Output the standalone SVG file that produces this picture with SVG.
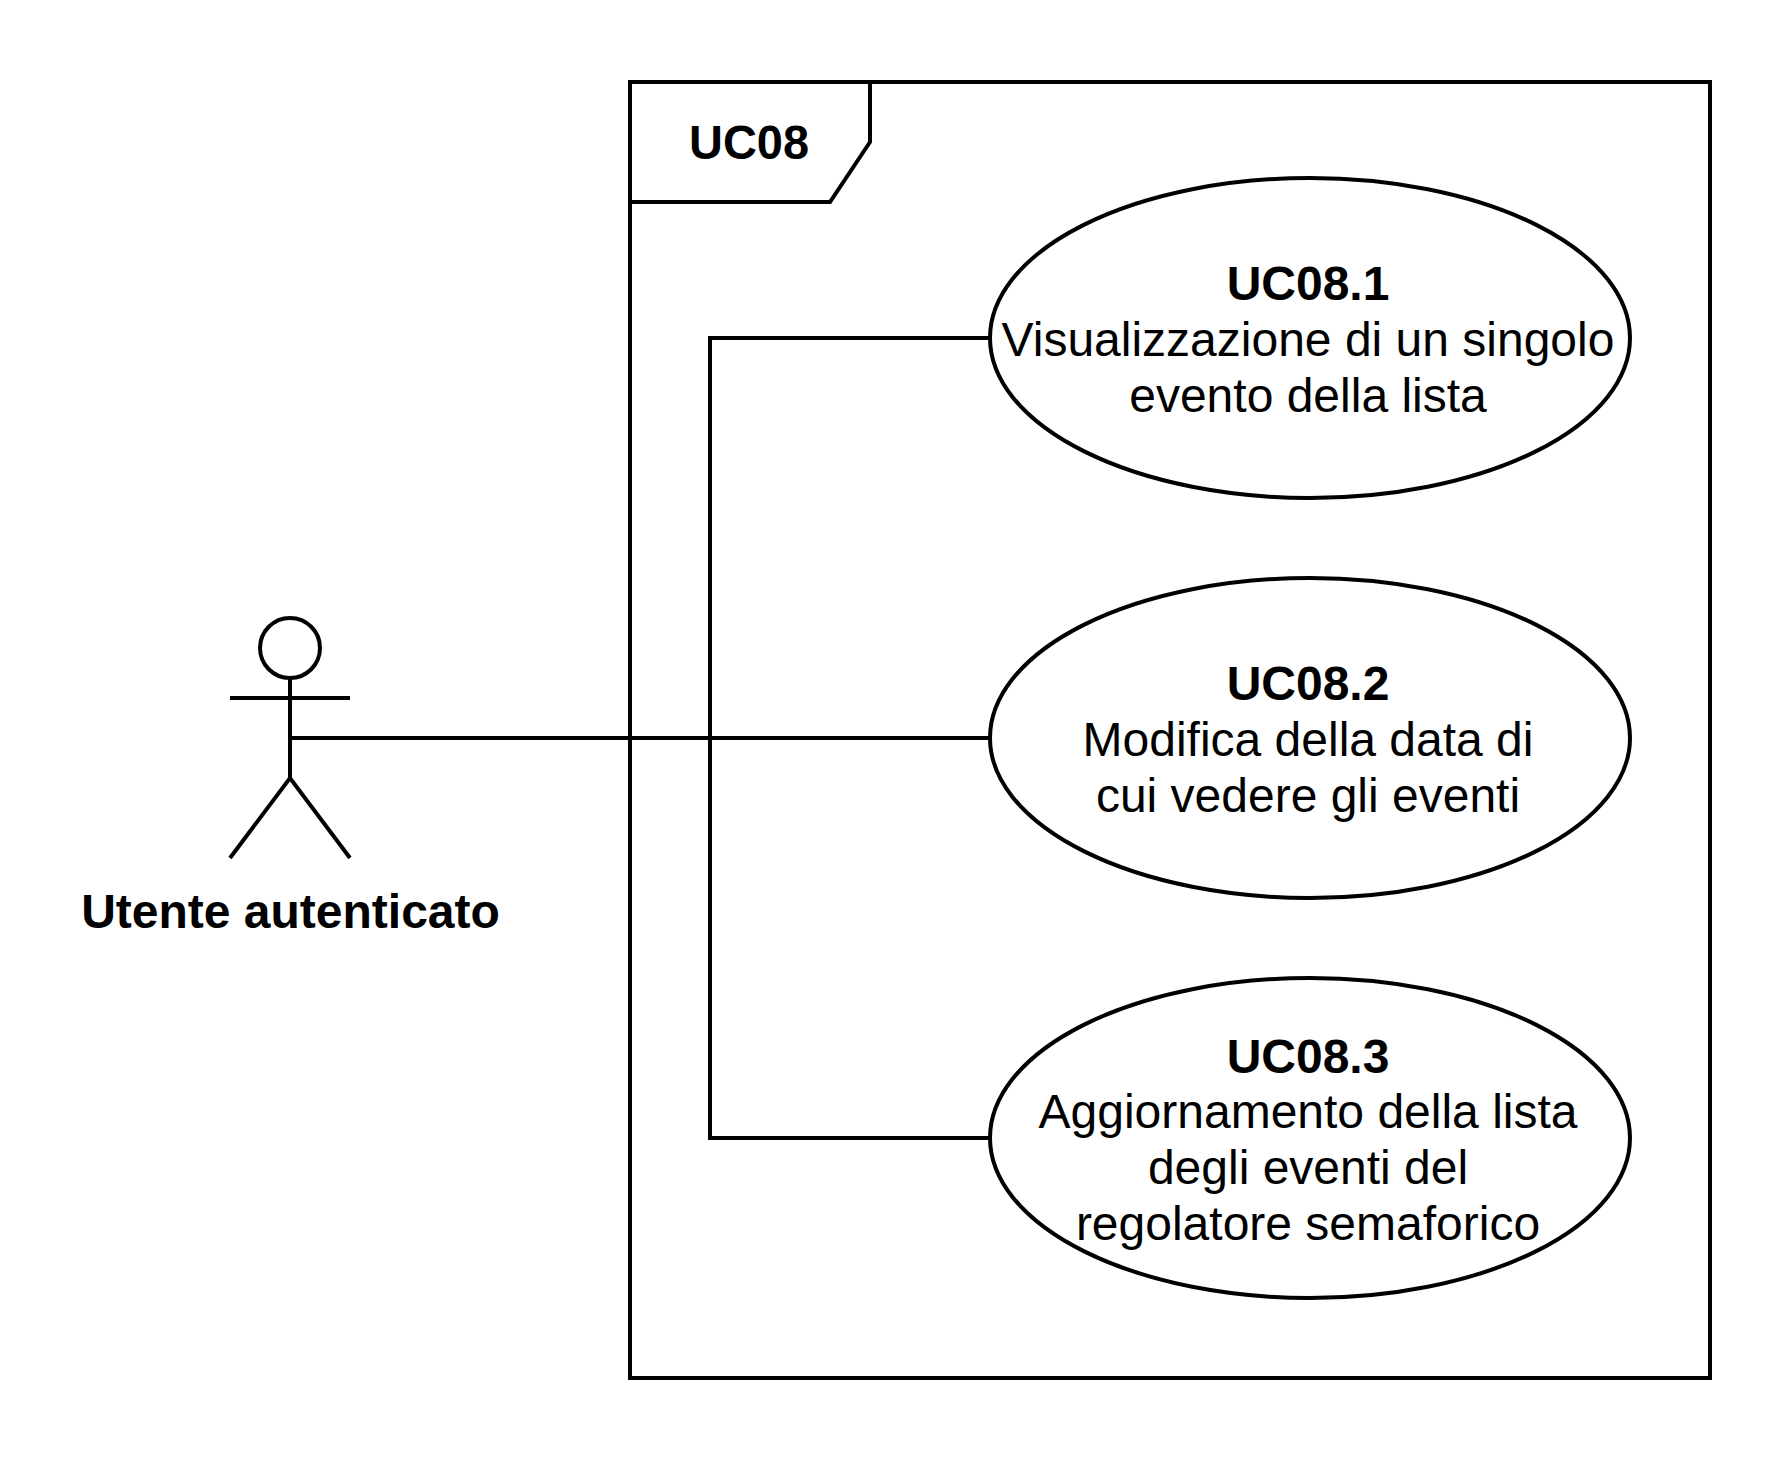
<svg xmlns="http://www.w3.org/2000/svg" width="1792" height="1460" viewBox="0 0 1792 1460">
<style>
.s{fill:none;stroke:#000;stroke-width:4}
.e{fill:#fff;stroke:#000;stroke-width:4}
text{font-family:"Liberation Sans",Arial,sans-serif;font-size:48px;fill:#000;text-anchor:middle}
.b{font-weight:bold}
</style>
<rect width="1792" height="1460" fill="#fff"/>
<g id="frame">
<rect class="s" x="630" y="82" width="1080" height="1296"/>
<path class="s" d="M630 202H830L870 142V82"/>
<text class="b" x="749" y="159" textLength="120" lengthAdjust="spacingAndGlyphs">UC08</text>
</g>
<g id="connectors">
<path class="s" d="M290 738H990"/>
<path class="s" d="M990 338H710V1138H990"/>
</g>
<g id="actor">
<circle class="s" cx="290" cy="648" r="30"/>
<path class="s" d="M290 678V778M230 698H350M230 858L290 778L350 858"/>
<text class="b" x="290.500" y="928">Utente autenticato</text>
</g>
<g id="uc1">
<ellipse class="e" cx="1310" cy="338" rx="320" ry="160"/>
<text class="b" x="1308" y="300">UC08.1</text>
<text x="1308" y="356">Visualizzazione di un singolo</text>
<text x="1308" y="412">evento della lista</text>
</g>
<g id="uc2">
<ellipse class="e" cx="1310" cy="738" rx="320" ry="160"/>
<text class="b" x="1308" y="700">UC08.2</text>
<text x="1308" y="756">Modifica della data di</text>
<text x="1308" y="812">cui vedere gli eventi</text>
</g>
<g id="uc3">
<ellipse class="e" cx="1310" cy="1138" rx="320" ry="160"/>
<text class="b" x="1308" y="1073">UC08.3</text>
<text x="1308" y="1128">Aggiornamento della lista</text>
<text x="1308" y="1184">degli eventi del</text>
<text x="1308" y="1240">regolatore semaforico</text>
</g>
</svg>
